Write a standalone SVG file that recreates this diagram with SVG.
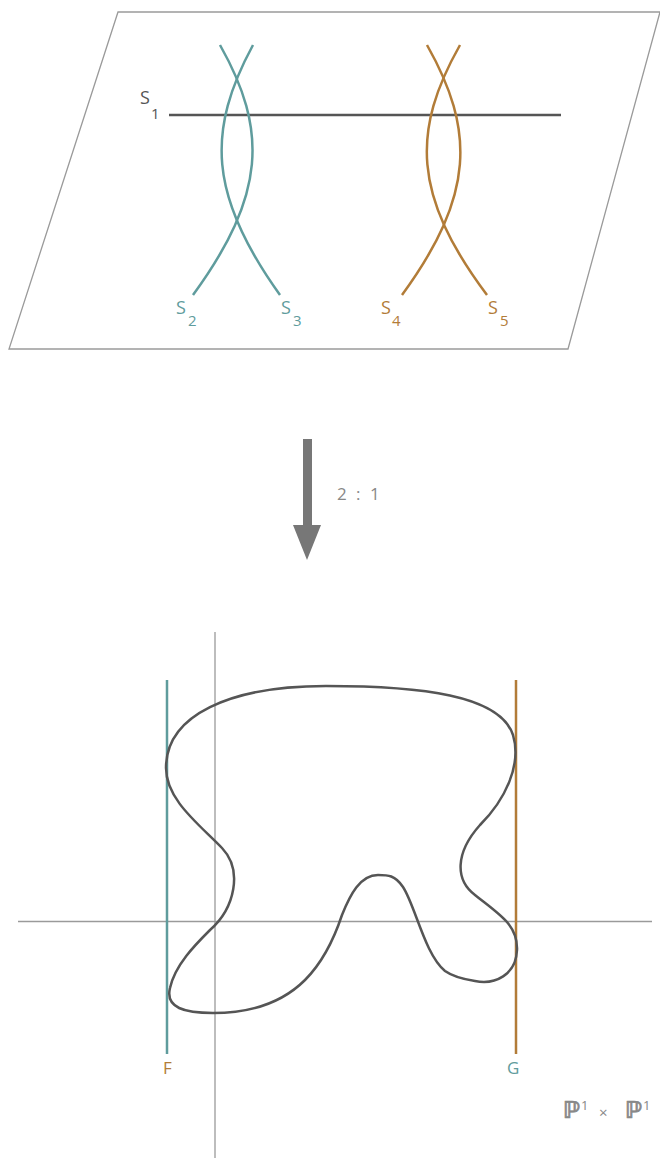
<svg xmlns="http://www.w3.org/2000/svg" width="660" height="1158" viewBox="0 0 660 1158">
<defs>
<style>
.lbl{font-family:"Open Sans","Liberation Sans",sans-serif;}
.teal{stroke:#5f9c9d;fill:none;stroke-width:2.5;}
.orng{stroke:#b27c38;fill:none;stroke-width:2.5;}
.tealT{fill:#5f9c9d;}
.orngT{fill:#b27c38;}
.thin{stroke:#9a9a9a;fill:none;stroke-width:1.3;}
.dark{stroke:#555;fill:none;stroke-width:2.5;}
.big{font-size:18px;}
.sub{font-size:15px;}
.dbl{font-family:"DejaVu Sans",sans-serif;font-size:23px;font-weight:bold;fill:#888;stroke:#888;stroke-width:0.7;}
</style>
</defs>
<rect width="660" height="1158" fill="#fff"/>
<g id="plane">
<polygon class="thin" points="118,12 660,12 568,349 9,349"/>
</g>
<g id="s1">
<line class="dark" x1="169" y1="115" x2="561" y2="115"/>
<text class="lbl big" x="140" y="104" fill="#555">S</text>
<text class="lbl sub" x="151" y="119" fill="#555">1</text>
</g>
<g id="s2">
<path class="teal" d="M220,45 C268,130 266,195 193,295"/>
<text class="lbl big tealT" x="176" y="314">S</text>
<text class="lbl sub tealT" x="188" y="326">2</text>
</g>
<g id="s3">
<path class="teal" d="M253,45 C207,130 208,195 280,295"/>
<text class="lbl big tealT" x="281" y="314">S</text>
<text class="lbl sub tealT" x="293" y="326">3</text>
</g>
<g id="s4">
<path class="orng" d="M427,45 C475,130 475,195 402,295"/>
<text class="lbl big orngT" x="381" y="314">S</text>
<text class="lbl sub orngT" x="392" y="326">4</text>
</g>
<g id="s5">
<path class="orng" d="M460,45 C412,130 412,195 487,295"/>
<text class="lbl big orngT" x="488" y="314">S</text>
<text class="lbl sub orngT" x="500" y="326">5</text>
</g>
<g id="connectors">
<rect x="303" y="439" width="9" height="87" fill="#777"/>
<polygon points="293,525 321,525 307,560" fill="#777"/>
<text class="lbl" x="337" y="500" font-size="17" fill="#888">2</text>
<text class="lbl" x="356" y="500" font-size="17" fill="#888">:</text>
<text class="lbl" x="370" y="500" font-size="17" fill="#888">1</text>
</g>
<g id="axes">
<line class="thin" x1="215" y1="632" x2="215" y2="1158"/>
<line class="thin" x1="18" y1="921.5" x2="652" y2="921.5"/>
</g>
<g id="F">
<line class="teal" x1="167" y1="680" x2="167" y2="1054"/>
<text class="lbl orngT" x="163" y="1074" font-size="17">F</text>
</g>
<g id="G">
<line class="orng" x1="516" y1="680" x2="516" y2="1054"/>
<text class="lbl tealT" x="507" y="1074" font-size="17">G</text>
</g>
<g id="curve">
<path class="dark" d="M166,768 C166,715 230,686 326,686 C420,686 500,695 513,735 C522,765 505,800 480,825 C455,853 455,880 475,895 C500,915 518,925 517,950 C516,975 495,985 475,981 C462,979 452,976 445,971 C425,955 415,905 403,887 C395,875 388,875 378,875 C360,875 350,895 342,915 C332,945 320,965 305,980 C285,1000 255,1013 213,1013 C185,1013 165,1008 170,988 C175,965 195,945 210,930 C235,908 243,870 222,848 C200,825 166,800 166,768 Z"/>
</g>
<g id="label">
<text class="dbl" x="563" y="1118">ℙ</text>
<text class="lbl" x="581" y="1110" font-size="13" fill="#888">1</text>
<text class="lbl" x="599" y="1118" font-size="15" fill="#888">×</text>
<text class="dbl" x="625" y="1118">ℙ</text>
<text class="lbl" x="643" y="1110" font-size="13" fill="#888">1</text>
</g>
</svg>
